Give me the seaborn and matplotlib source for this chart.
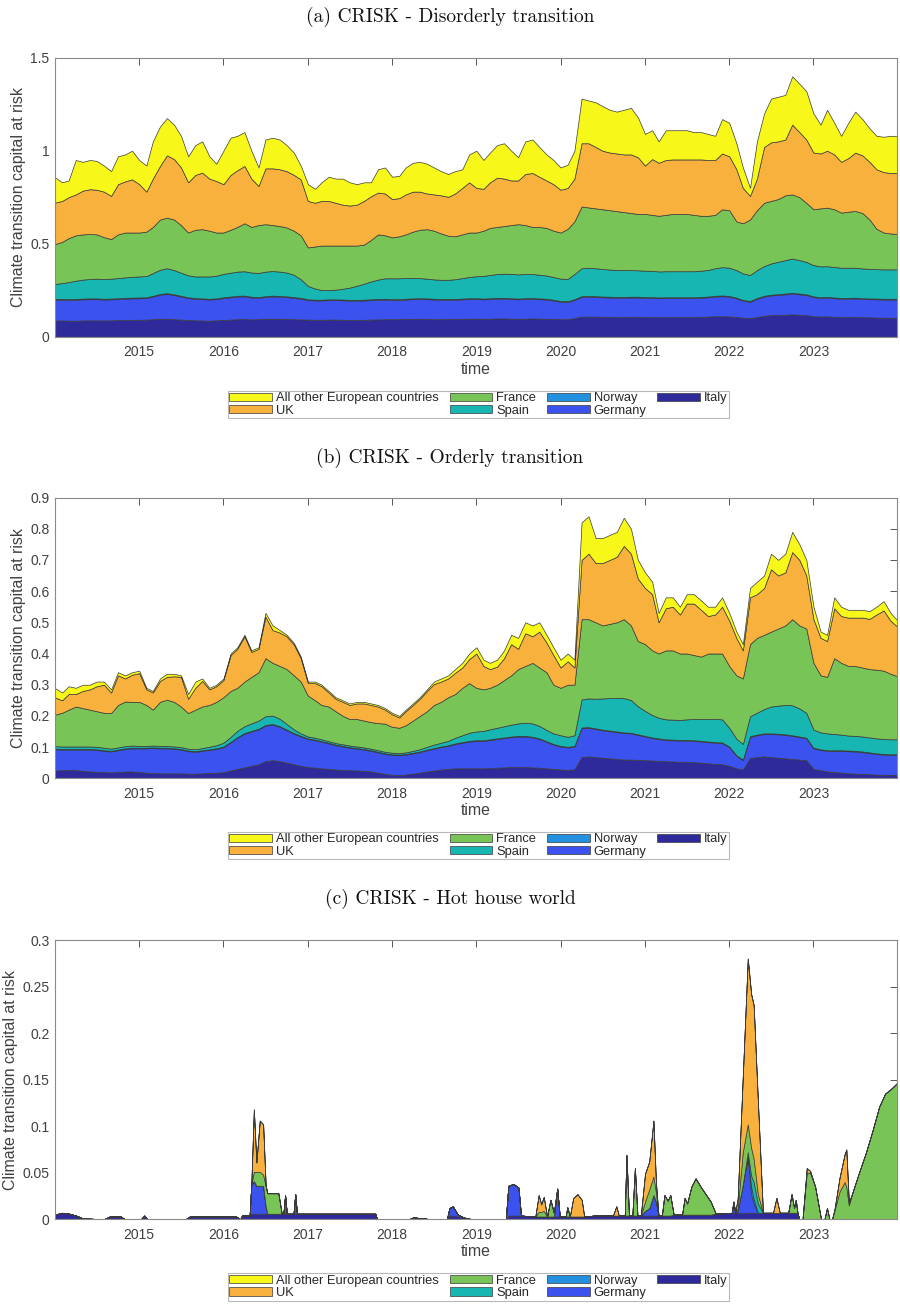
import numpy as np
import pandas as pd
import matplotlib
matplotlib.use("Agg")
import matplotlib.pyplot as plt
import seaborn as sns
from matplotlib.ticker import FuncFormatter, FixedLocator

sns.set_theme(style="white")
plt.rcParams['font.family'] = ['Liberation Sans', 'DejaVu Sans']

# ---------------- labels / categories ----------------
countries = ["All other European countries", "UK", "France", "Spain", "Norway", "Germany", "Italy"]
titles = ["(a) CRISK - Disorderly transition", "(b) CRISK - Orderly transition", "(c) CRISK - Hot house world"]
ylabel = "Climate transition capital at risk"
xlabel = "time"
year_ticks = [2015, 2016, 2017, 2018, 2019, 2020, 2021, 2022, 2023]
yticks_a = [0, 0.5, 1, 1.5]
yticks_b = [0, 0.1, 0.2, 0.3, 0.4, 0.5, 0.6, 0.7, 0.8, 0.9]
yticks_c = [0, 0.05, 0.1, 0.15, 0.2, 0.25, 0.3]

# ---------------- panel (a) monthly values, Jan 2014 .. Jan 2024 ----------------
italy_a = [.087,.087,.086,.086,.087,.088,.088,.087,.088,.089,.090,.090,
           .091,.092,.094,.096,.096,.094,.092,.090,.088,.087,.086,.088,
           .090,.092,.094,.095,.093,.094,.096,.097,.096,.095,.094,.093,
           .092,.091,.091,.092,.092,.091,.090,.090,.091,.092,.093,.094,
           .094,.094,.095,.096,.096,.095,.094,.094,.095,.095,.096,.097,
           .097,.096,.097,.098,.098,.097,.096,.097,.098,.097,.096,.095,
           .094,.094,.100,.108,.108,.108,.107,.107,.106,.106,.107,.107,
           .106,.106,.105,.106,.106,.106,.106,.106,.107,.108,.110,.110,
           .109,.106,.102,.100,.106,.112,.116,.117,.118,.120,.118,.116,
           .110,.108,.109,.107,.105,.106,.107,.105,.104,.103,.102,.102, .102]
germany_a = [.113,.112,.112,.113,.114,.114,.114,.113,.113,.114,.115,.116,
             .116,.116,.122,.130,.134,.130,.124,.118,.116,.115,.114,.114,
             .118,.120,.122,.122,.118,.115,.118,.120,.119,.118,.115,.112,
             .105,.104,.104,.105,.105,.105,.104,.104,.104,.105,.106,.106,
             .104,.104,.105,.106,.107,.107,.106,.105,.104,.104,.105,.106,
             .106,.105,.106,.107,.107,.106,.105,.106,.106,.105,.104,.100,
             .094,.093,.098,.106,.107,.106,.105,.104,.104,.104,.104,.104,
             .103,.103,.102,.102,.102,.102,.102,.102,.103,.104,.106,.108,
             .106,.100,.092,.088,.098,.104,.106,.108,.110,.112,.110,.108,
             .103,.100,.101,.100,.099,.099,.099,.098,.098,.098,.098,.098, .098]
norway_a = [.004,.004,.004,.004,.004,.004,.004,.004,.004,.004,.004,.004,
            .004,.004,.004,.004,.004,.004,.004,.004,.004,.004,.004,.004,
            .004,.004,.004,.004,.004,.004,.004,.004,.004,.004,.004,.004,
            .004,.004,.004,.004,.004,.004,.004,.004,.004,.004,.004,.004,
            .004,.004,.004,.004,.004,.004,.004,.004,.004,.004,.004,.004,
            .004,.004,.004,.004,.004,.004,.004,.004,.004,.004,.004,.004,
            .004,.004,.004,.004,.004,.004,.004,.004,.004,.004,.004,.004,
            .004,.004,.004,.004,.004,.004,.004,.004,.004,.004,.004,.004,
            .004,.004,.004,.004,.004,.004,.004,.004,.004,.004,.004,.004,
            .004,.004,.004,.004,.004,.004,.004,.004,.004,.004,.004,.004, .004]
spain_a = [.080,.085,.092,.098,.102,.104,.106,.106,.107,.108,.110,.112,
           .113,.114,.122,.130,.134,.130,.124,.118,.116,.118,.120,.122,
           .126,.128,.130,.131,.130,.130,.132,.132,.131,.128,.120,.100,
           .072,.060,.052,.050,.052,.058,.066,.076,.086,.096,.104,.110,
           .112,.112,.112,.110,.108,.106,.104,.103,.103,.106,.110,.114,
           .118,.122,.125,.128,.130,.131,.130,.130,.129,.127,.125,.122,
           .120,.120,.135,.150,.152,.150,.148,.146,.145,.144,.143,.142,
           .142,.141,.140,.140,.140,.140,.140,.140,.141,.143,.148,.152,
           .152,.148,.142,.140,.150,.160,.168,.174,.180,.184,.180,.174,
           .168,.166,.165,.164,.163,.162,.161,.160,.159,.158,.158,.158, .158]
france_a = [.214,.222,.236,.244,.243,.242,.238,.225,.213,.235,.241,.238,
            .236,.239,.248,.270,.272,.272,.256,.230,.251,.254,.246,.232,
            .222,.231,.240,.258,.245,.257,.255,.247,.245,.242,.237,.236,
            .207,.226,.239,.239,.237,.232,.226,.216,.210,.223,.243,.231,
            .220,.226,.234,.249,.260,.266,.262,.249,.237,.231,.235,.239,
            .235,.243,.253,.253,.256,.262,.270,.263,.253,.257,.256,.249,
            .248,.269,.283,.332,.324,.322,.321,.319,.316,.312,.307,.303,
            .305,.301,.299,.303,.308,.308,.308,.303,.295,.291,.287,.311,
            .309,.262,.270,.298,.322,.340,.336,.337,.348,.345,.338,.318,
            .300,.312,.315,.310,.296,.301,.305,.298,.265,.217,.198,.193, .190]
uk_a = [.223,.220,.220,.220,.235,.241,.240,.245,.232,.270,.275,.286,
        .260,.215,.260,.288,.335,.325,.310,.270,.295,.304,.280,.277,
        .260,.295,.305,.308,.260,.210,.300,.305,.305,.303,.300,.301,
        .250,.235,.240,.240,.230,.220,.215,.220,.235,.235,.225,.225,
        .206,.205,.215,.215,.205,.192,.195,.205,.209,.230,.250,.270,
        .240,.225,.245,.265,.255,.240,.235,.275,.290,.270,.255,.250,
        .230,.220,.230,.340,.345,.330,.315,.310,.310,.310,.315,.305,
        .260,.300,.285,.295,.293,.293,.293,.298,.303,.300,.295,.300,
        .290,.280,.190,.127,.170,.300,.315,.310,.300,.375,.350,.340,
        .305,.295,.306,.295,.273,.288,.314,.310,.310,.320,.325,.325, .328]
other_a = [.136,.100,.090,.185,.155,.157,.155,.140,.133,.150,.145,.154,
           .130,.140,.200,.212,.200,.185,.170,.140,.160,.168,.120,.093,
           .180,.200,.185,.182,.150,.100,.155,.165,.160,.140,.120,.074,
           .090,.075,.100,.130,.130,.140,.125,.110,.100,.075,.125,.140,
           .120,.120,.145,.155,.160,.160,.145,.130,.123,.120,.100,.150,
           .200,.155,.160,.175,.190,.160,.125,.175,.180,.160,.140,.130,
           .120,.125,.150,.240,.230,.240,.240,.230,.225,.240,.250,.215,
           .170,.155,.115,.160,.157,.157,.157,.147,.147,.140,.130,.185,
           .180,.140,.110,.043,.200,.180,.235,.240,.240,.260,.260,.260,
           .210,.155,.220,.170,.140,.190,.220,.195,.180,.180,.190,.200, .200]

# ---------------- panel (b) monthly values ----------------
italy_b = [.025,.026,.027,.026,.024,.022,.021,.020,.019,.020,.022,.022,
           .020,.018,.017,.016,.016,.016,.016,.015,.015,.016,.017,.018,
           .020,.025,.030,.035,.040,.045,.055,.058,.055,.050,.045,.040,
           .036,.034,.032,.030,.028,.027,.026,.025,.024,.022,.018,.014,
           .011,.010,.012,.015,.018,.022,.025,.028,.030,.032,.032,.032,
           .032,.032,.033,.034,.035,.036,.036,.036,.035,.034,.032,.030,
           .028,.027,.029,.068,.070,.068,.066,.064,.062,.060,.060,.059,
           .058,.057,.056,.055,.054,.053,.053,.052,.050,.048,.046,.045,
           .040,.032,.028,.065,.068,.070,.068,.066,.064,.062,.060,.058,
           .030,.026,.022,.020,.018,.016,.015,.014,.013,.012,.011,.011, .011]
germany_b = [.068,.066,.065,.066,.068,.070,.070,.068,.067,.070,.072,.074,
             .076,.078,.080,.080,.080,.078,.076,.072,.070,.072,.074,.076,
             .080,.090,.100,.108,.110,.112,.114,.114,.110,.104,.098,.094,
             .090,.088,.085,.082,.078,.075,.072,.070,.068,.066,.065,.064,
             .064,.064,.064,.065,.066,.068,.070,.072,.074,.078,.082,.086,
             .088,.088,.090,.092,.094,.096,.098,.098,.096,.092,.085,.078,
             .074,.072,.073,.093,.092,.090,.088,.087,.086,.085,.084,.080,
             .076,.072,.070,.068,.068,.068,.068,.068,.068,.068,.068,.068,
             .060,.040,.030,.068,.070,.072,.074,.075,.075,.074,.072,.070,
             .066,.065,.066,.068,.070,.071,.071,.070,.068,.066,.065,.064, .064]
norway_b = [.002,.002,.002,.002,.002,.002,.002,.002,.002,.002,.002,.002,
            .002,.002,.002,.002,.002,.002,.002,.002,.002,.002,.002,.002,
            .002,.002,.002,.002,.002,.002,.002,.002,.002,.002,.002,.002,
            .002,.002,.002,.002,.002,.002,.002,.002,.002,.002,.002,.002,
            .002,.002,.002,.002,.002,.002,.002,.002,.002,.002,.002,.002,
            .002,.002,.002,.002,.002,.002,.002,.002,.002,.002,.002,.002,
            .002,.002,.002,.002,.002,.002,.002,.002,.002,.002,.002,.002,
            .002,.002,.002,.002,.002,.002,.002,.002,.002,.002,.002,.002,
            .002,.002,.002,.002,.002,.002,.002,.002,.002,.002,.002,.002,
            .002,.002,.002,.002,.002,.002,.002,.002,.002,.002,.002,.002, .002]
spain_b = [.008,.008,.008,.008,.008,.008,.008,.008,.007,.007,.007,.007,
           .006,.006,.006,.006,.006,.006,.006,.006,.006,.007,.008,.010,
           .012,.016,.020,.022,.024,.026,.028,.027,.024,.018,.012,.008,
           .006,.006,.006,.005,.005,.005,.005,.005,.005,.005,.005,.005,
           .005,.005,.005,.006,.007,.009,.011,.012,.014,.018,.022,.026,
           .028,.030,.032,.034,.036,.038,.040,.042,.043,.040,.036,.034,
           .034,.032,.034,.090,.092,.095,.100,.104,.108,.110,.105,.090,
           .080,.072,.066,.064,.064,.064,.066,.068,.070,.072,.074,.074,
           .060,.053,.050,.064,.070,.078,.086,.090,.094,.096,.090,.080,
           .058,.054,.054,.052,.050,.048,.048,.048,.048,.048,.048,.048, .048]
france_b = [.101,.108,.118,.128,.123,.118,.114,.112,.114,.136,.143,.140,
            .141,.131,.115,.141,.148,.143,.130,.114,.127,.133,.134,.139,
            .146,.147,.138,.143,.149,.155,.186,.169,.169,.176,.173,.166,
            .131,.120,.110,.111,.102,.091,.085,.088,.086,.085,.087,.090,
            .083,.081,.087,.097,.107,.114,.127,.131,.140,.140,.152,.159,
            .140,.133,.133,.138,.148,.158,.174,.182,.194,.187,.185,.156,
            .152,.167,.162,.257,.254,.245,.234,.238,.242,.253,.239,.209,
            .214,.207,.206,.221,.222,.213,.211,.205,.200,.210,.210,.211,
            .198,.203,.210,.231,.240,.238,.240,.247,.255,.276,.266,.270,
            .214,.183,.181,.243,.230,.223,.224,.221,.219,.220,.219,.210, .202]
uk_b = [.055,.040,.050,.040,.055,.065,.080,.090,.066,.095,.074,.087,
        .092,.050,.055,.067,.073,.082,.095,.046,.070,.082,.050,.050,
        .055,.115,.125,.145,.080,.075,.133,.105,.107,.105,.099,.075,
        .040,.055,.060,.045,.040,.045,.045,.050,.055,.055,.053,.045,
        .040,.033,.045,.050,.055,.065,.067,.065,.060,.068,.065,.077,
        .110,.075,.060,.058,.070,.100,.065,.105,.085,.115,.095,.095,
        .065,.075,.055,.190,.210,.190,.200,.205,.210,.235,.230,.200,
        .180,.180,.100,.135,.140,.125,.160,.165,.150,.120,.125,.150,
        .145,.120,.090,.150,.140,.150,.200,.170,.170,.215,.210,.170,
        .140,.120,.115,.160,.150,.155,.155,.160,.161,.177,.193,.170, .158]
other_b = [.030,.025,.025,.020,.020,.015,.015,.010,.010,.010,.010,.008,
           .008,.005,.005,.008,.010,.008,.005,.015,.020,.008,.005,.005,
           .005,.005,.005,.005,.005,.005,.012,.015,.008,.005,.005,.005,
           .005,.005,.005,.005,.005,.005,.005,.005,.005,.005,.005,.005,
           .005,.005,.005,.005,.005,.005,.008,.010,.010,.012,.015,.018,
           .020,.020,.020,.022,.025,.030,.035,.035,.035,.030,.025,.025,
           .025,.025,.025,.120,.120,.080,.080,.080,.080,.090,.080,.060,
           .050,.040,.030,.035,.030,.025,.030,.030,.030,.030,.025,.030,
           .025,.020,.020,.030,.040,.040,.050,.050,.060,.065,.050,.050,
           .040,.020,.020,.035,.030,.025,.025,.025,.025,.025,.030,.025, .020]

# ---------------- panel (c) values at irregular dates (decimal years) ----------------
time_c = [2014.00,2014.08,2014.17,2014.25,2014.33,2014.58,2014.65,2014.78,2014.83,2015.02,
          2015.06,2015.10,2015.55,2015.60,2016.00,2016.15,2016.20,2016.22,2016.31,2016.33,
          2016.36,2016.39,2016.43,2016.47,2016.50,2016.52,2016.65,2016.69,2016.71,2016.73,
          2016.75,2016.83,2016.85,2016.87,2017.80,2017.82,2018.20,2018.25,2018.38,2018.45,
          2018.65,2018.68,2018.72,2018.78,2018.85,2018.95,2019.35,2019.38,2019.44,2019.50,
          2019.53,2019.70,2019.74,2019.77,2019.80,2019.84,2019.88,2019.92,2019.96,2019.99,
          2020.06,2020.08,2020.11,2020.15,2020.20,2020.25,2020.28,2020.40,2020.62,2020.66,
          2020.69,2020.76,2020.78,2020.81,2020.85,2020.88,2020.91,2020.95,2021.00,2021.05,
          2021.10,2021.13,2021.16,2021.20,2021.23,2021.27,2021.30,2021.34,2021.44,2021.47,
          2021.50,2021.55,2021.60,2021.66,2021.72,2021.78,2021.84,2022.03,2022.05,2022.07,
          2022.10,2022.16,2022.22,2022.26,2022.29,2022.34,2022.40,2022.52,2022.56,2022.60,
          2022.70,2022.74,2022.77,2022.79,2022.81,2022.83,2022.87,2022.92,2022.96,2023.02,
          2023.05,2023.09,2023.13,2023.16,2023.19,2023.22,2023.25,2023.31,2023.37,2023.39,
          2023.42,2023.46,2023.54,2023.62,2023.70,2023.78,2023.85,2023.92,2024.00]
italy_c = [.005,.007,.006,.004,.001,0,.003,.003,0,0,
           .004,0,0,.003,.003,.003,0,.004,.004,.006,
           .006,.006,.006,.006,.006,.006,.006,.006,.006,.006,
           .006,.006,.006,.006,.006,0,0,.002,.001,0,
           0,.004,.004,.003,.002,0,0,.004,.004,.004,
           .004,.003,.003,.003,.003,.003,.003,.003,.003,.003,
           .003,.003,.003,.003,.003,.003,.003,.004,.004,.004,
           .004,.004,.004,.004,.004,.004,.004,.004,.004,.004,
           .004,.004,.004,.004,.004,.004,.004,.005,.005,.005,
           .005,.005,.005,.005,.005,.005,.006,.007,.007,.007,
           .007,.007,.007,.007,.007,.007,.007,.007,.007,.007,
           .007,.007,.007,.007,.007,0,0,0,0,0,
           0,0,0,0,0,0,0,0,0,0,
           0,0,0,0,0,0,0,0,0]
germany_c = [0,0,0,0,0,0,0,0,0,0,
             0,0,0,0,0,0,0,0,0,.032,
             .035,.030,.030,.030,.008,0,0,0,0,.020,
             0,0,.021,0,0,0,0,0,0,0,
             0,.008,.010,.002,0,0,0,.032,.034,.030,
             0,0,0,0,0,0,0,0,.030,0,
             0,0,0,0,0,0,0,0,0,0,
             0,0,0,0,0,0,0,0,.005,.008,
             .022,.015,0,0,0,0,0,0,0,0,
             0,0,0,0,0,0,0,0,.012,0,
             .002,.030,.060,.020,.010,0,0,0,0,0,
             0,0,0,0,0,0,0,0,0,0,
             0,0,0,0,0,0,0,0,0,0,
             0,0,0,0,0,0,0,0,0]
norway_c = [0,0,0,0,0,0,0,0,0,0,
            0,0,0,0,0,0,0,0,0,0,
            0,0,0,0,0,0,0,0,0,0,
            0,0,0,0,0,0,0,0,0,0,
            0,0,0,0,0,0,0,0,0,0,
            0,0,0,0,0,0,0,0,0,0,
            0,0,0,0,0,0,0,0,0,0,
            0,0,0,0,0,0,0,0,0,0,
            0,0,0,0,0,0,0,0,0,0,
            0,0,0,0,0,0,0,0,0,0,
            0,0,0,.008,.005,0,0,0,0,0,
            0,0,0,0,0,0,0,0,0,0,
            0,0,0,0,0,0,0,0,0,0,
            0,0,0,0,0,0,0,0,0]
spain_c = [0,0,0,0,0,0,0,0,0,0,
           0,0,0,0,0,0,0,0,0,0,
           0,0,0,0,0,0,0,0,0,0,
           0,0,0,0,0,0,0,0,0,0,
           0,0,0,0,0,0,0,0,0,0,
           0,0,0,0,0,0,0,0,0,0,
           0,0,0,0,0,0,0,0,0,0,
           0,0,0,0,0,0,0,0,0,0,
           0,0,0,0,0,0,0,0,0,0,
           0,0,0,0,0,0,0,0,0,0,
           0,0,.005,.012,.018,.010,0,0,0,0,
           0,0,0,0,0,0,0,0,0,0,
           0,0,0,0,0,0,0,0,0,0,
           0,0,0,0,0,0,0,0,0]
france_c = [0,0,0,0,0,0,0,0,0,0,
            0,0,0,0,0,0,0,0,0,0,
            .010,.015,.015,.012,.022,.022,.022,0,0,0,
            0,0,0,0,0,0,0,0,0,0,
            0,0,0,0,0,0,0,0,0,0,
            0,0,.005,.005,.006,0,.018,.004,0,0,
            0,.010,0,0,0,0,0,0,0,0,
            0,0,.065,0,0,.051,0,0,.010,.020,
            .020,.010,0,0,.022,.016,.022,0,0,.018,
            .012,.030,.039,.030,.022,.014,0,0,0,0,
            .003,.035,.030,.030,.025,.010,0,0,0,0,
            0,.020,.005,.014,0,0,0,.050,.050,.035,
            .020,0,0,.012,0,0,.010,.030,.040,.035,
            .015,.028,.050,.071,.095,.121,.135,.140,.147]
uk_c = [0,0,0,0,0,0,0,0,0,0,
        0,0,0,0,0,0,0,0,0,0,
        .067,.010,.055,.054,0,0,0,0,0,0,
        0,0,0,0,0,0,0,0,0,0,
        0,0,0,0,0,0,0,0,0,0,
        0,0,.018,.008,.015,0,0,0,0,0,
        0,0,0,.020,.024,.018,0,0,0,.010,
        0,0,0,0,0,0,0,0,.030,.030,
        .060,.010,0,0,0,0,0,0,0,0,
        0,0,0,0,0,0,0,0,0,0,
        .010,.080,.178,.165,.165,.100,0,0,.016,0,
        0,0,0,0,0,0,0,.005,.002,0,
        0,0,0,0,0,0,0,.015,.030,.040,
        .003,0,0,0,0,0,0,0,0]
other_c = [0,0,0,0,0,0,0,0,0,0,
           0,0,0,0,0,0,0,0,0,0,
           0,0,0,0,0,0,0,0,0,0,
           0,0,0,0,0,0,0,0,0,0,
           0,0,0,0,0,0,0,0,0,0,
           0,0,0,0,0,0,0,0,0,0,
           0,0,0,0,0,0,0,0,0,0,
           0,0,0,0,0,0,0,0,0,0,
           0,0,0,0,0,0,0,0,0,0,
           0,0,0,0,0,0,0,0,0,0,
           0,0,0,0,0,0,0,0,0,0,
           0,0,0,0,0,0,0,0,0,0,
           0,0,0,0,0,0,.002,0,0,0,
           0,0,0,0,0,0,0,0,0]

# ---------------- build ----------------
months = pd.date_range("2014-01-01", "2024-01-01", freq="MS")


def dec_to_dt(y):
    yr = int(np.floor(y))
    start = pd.Timestamp(yr, 1, 1)
    end = pd.Timestamp(yr + 1, 1, 1)
    return start + (end - start) * (y - yr)


dates_c = pd.DatetimeIndex([dec_to_dt(v) for v in time_c])

for s in [italy_a, germany_a, norway_a, spain_a, france_a, uk_a, other_a,
          italy_b, germany_b, norway_b, spain_b, france_b, uk_b, other_b]:
    assert len(s) == len(months), len(s)
for s in [italy_c, germany_c, norway_c, spain_c, france_c, uk_c, other_c]:
    assert len(s) == len(time_c), len(s)

palette = sns.color_palette(["#f7f71a", "#f8b13d", "#79c456", "#17b6b2", "#2490e0", "#3b52ef", "#2f2a9c"])
col = dict(zip(countries, palette))

panels = [
    (months, [italy_a, germany_a, norway_a, spain_a, france_a, uk_a, other_a], (0, 1.5), yticks_a),
    (months, [italy_b, germany_b, norway_b, spain_b, france_b, uk_b, other_b], (0, 0.9), yticks_b),
    (dates_c, [italy_c, germany_c, norway_c, spain_c, france_c, uk_c, other_c], (0, 0.3), yticks_c),
]
stack_names = ["Italy", "Germany", "Norway", "Spain", "France", "UK", "All other European countries"]

fig = plt.figure(figsize=(9, 13.07), dpi=100)
W, H = 900, 1307
ax_pix = [(57.7, 336.7), (497.5, 778.3), (940, 1219.3)]
title_y = [17, 458, 899]
legend_y = [404.5, 845.5, 1287]
axl, axr = 55, 897

for i, (x, series, ylim, yt) in enumerate(panels):
    top, bot = ax_pix[i]
    ax = fig.add_axes([axl / W, 1 - bot / H, (axr - axl) / W, (bot - top) / H])
    polys = ax.stackplot(x, *[np.array(s, dtype=float) for s in series],
                         colors=[col[n] for n in stack_names], labels=stack_names,
                         edgecolor="#3a3a3a", linewidth=0.5)
    ax.set_xlim(pd.Timestamp("2014-01-01"), pd.Timestamp("2023-12-29"))
    ax.set_ylim(*ylim)
    ax.xaxis.set_major_locator(FixedLocator([matplotlib.dates.date2num(pd.Timestamp(y, 1, 1)) for y in year_ticks]))
    ax.set_xticklabels([str(y) for y in year_ticks])
    ax.set_yticks(yt)
    ax.yaxis.set_major_formatter(FuncFormatter(lambda v, p: f"{v:g}"))
    ax.tick_params(direction="in", top=True, right=True, length=5, width=0.7,
                   color="#555555", labelcolor="#404040", labelsize=10)
    ax.tick_params(axis="x", pad=6)
    ax.tick_params(axis="y", pad=4)
    for sp in ax.spines.values():
        sp.set_color("#8a8a8a")
        sp.set_linewidth(0.8)
    ax.set_xlabel(xlabel, fontsize=11.4, color="#404040", labelpad=2)
    ax.set_ylabel(ylabel, fontsize=11.4, color="#404040", labelpad=3)
    ax.set_facecolor("white")
    fig.text(0.5, 1 - title_y[i] / H, titles[i], ha="center", va="center",
             fontsize=14, family="cmr10", color="#111111")
    handles = {p.get_label(): p for p in polys}
    leg = fig.legend([handles[n] for n in countries], countries, loc="center",
                     bbox_to_anchor=(478.5 / W, 1 - legend_y[i] / H), ncol=4,
                     frameon=True, fancybox=False, edgecolor="#a8a8a8", fontsize=9.3,
                     handlelength=3.3, handleheight=0.6, handletextpad=0.3,
                     columnspacing=0.85, borderpad=0.12, labelspacing=0.02, borderaxespad=0)
    leg.get_frame().set_linewidth(0.8)
    for t in leg.get_texts():
        t.set_color("#262626")

fig.savefig("out.png", dpi=100, facecolor="white")
